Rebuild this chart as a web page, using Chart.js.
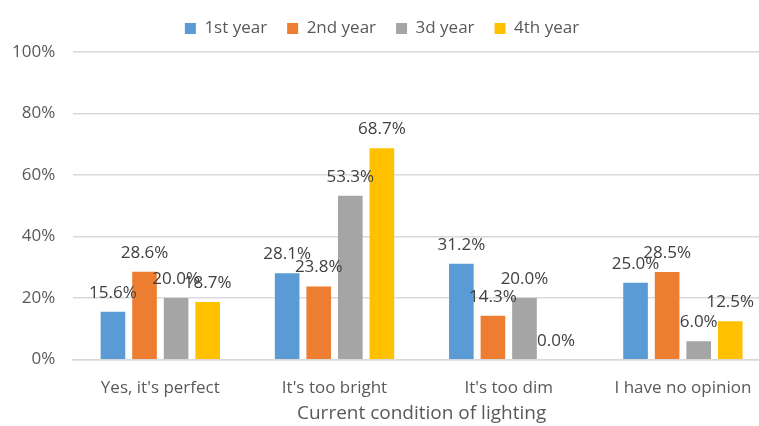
<!DOCTYPE html>
<html>
<head>
<meta charset="utf-8">
<script src="https://cdn.jsdelivr.net/npm/chart.js@4/dist/chart.umd.min.js"></script>
<style>
    html, body { margin: 0; padding: 0; background: #fff; overflow: hidden; }
    #wrap { width: 772px; height: 426px; position: relative; }
</style>
</head>
<body>
<div id="wrap"><canvas id="lighting-chart"></canvas></div>
<script>
// survey answers by year of study (percent)
const categories = ["Yes, it's perfect", "It's too bright", "It's too dim", 'I have no opinion'];
const seriesNames = ['1st year', '2nd year', '3d year', '4th year'];
const firstYear = [15.6, 28.1, 31.2, 25.0];
const secondYear = [28.6, 23.8, 14.3, 28.5];
const thirdYear = [20.0, 53.3, 20.0, 6.0];
const fourthYear = [18.7, 68.7, 0.0, 12.5];
const yTicks = [0, 20, 40, 60, 80, 100];

const seriesColors = ['#5B9BD5', '#ED7D31', '#A5A5A5', '#FFC000'];
const FONT = "'Open Sans', sans-serif";

// value labels drawn above each bar
const barValueLabels = {
    id: 'barValueLabels',
    afterDatasetsDraw(chart) {
        const ctx = chart.ctx;
        ctx.save();
        ctx.font = '17px ' + FONT;
        ctx.fillStyle = '#404040';
        ctx.textAlign = 'center';
        ctx.textBaseline = 'alphabetic';
        chart.data.datasets.forEach((ds, i) => {
            chart.getDatasetMeta(i).data.forEach((bar, j) => {
                ctx.fillText(ds.data[j].toFixed(1) + '%', bar.x, bar.y - 14);
            });
        });
        ctx.restore();
    }
};

// a bit more room between the legend and the plot
const legendGap = {
    id: 'legendGap',
    beforeInit(chart) {
        const fit = chart.legend.fit;
        chart.legend.fit = function () {
            fit.call(this);
            this.height += 5;
        };
    }
};

const allSeries = [firstYear, secondYear, thirdYear, fourthYear];

new Chart(document.getElementById('lighting-chart'), {
    type: 'bar',
    data: {
        labels: categories,
        datasets: allSeries.map((values, i) => ({
            label: seriesNames[i],
            data: values,
            backgroundColor: seriesColors[i],
            borderWidth: 0,
            categoryPercentage: 0.725,
            barPercentage: 0.78
        }))
    },
    options: {
        responsive: true,
        maintainAspectRatio: false,
        animation: false,
        layout: { padding: { left: -6, right: 2, top: 0, bottom: -1 } },
        plugins: {
            tooltip: { enabled: false },
            legend: {
                position: 'top',
                labels: {
                    color: '#595959',
                    font: { family: FONT, size: 17 },
                    boxWidth: 11,
                    boxHeight: 11,
                    padding: 20
                }
            }
        },
        scales: {
            x: {
                grid: { display: false },
                border: { color: '#D9D9D9', width: 1.5 },
                ticks: {
                    color: '#595959',
                    font: { family: FONT, size: 17 },
                    padding: 10
                },
                title: {
                    display: true,
                    text: 'Current condition of lighting',
                    color: '#595959',
                    font: { family: FONT, size: 19, lineHeight: 1.05 },
                    padding: { top: -4, bottom: 3 }
                }
            },
            y: {
                min: 0,
                max: 100,
                afterBuildTicks(axis) {
                    axis.ticks = yTicks.map(v => ({ value: v }));
                },
                grid: { color: '#D9D9D9', lineWidth: 1.5, drawTicks: false },
                border: { display: false },
                ticks: {
                    color: '#595959',
                    font: { family: FONT, size: 17 },
                    padding: 18,
                    callback: v => v + '%'
                }
            }
        }
    },
    plugins: [barValueLabels, legendGap]
});
</script>
</body>
</html>
